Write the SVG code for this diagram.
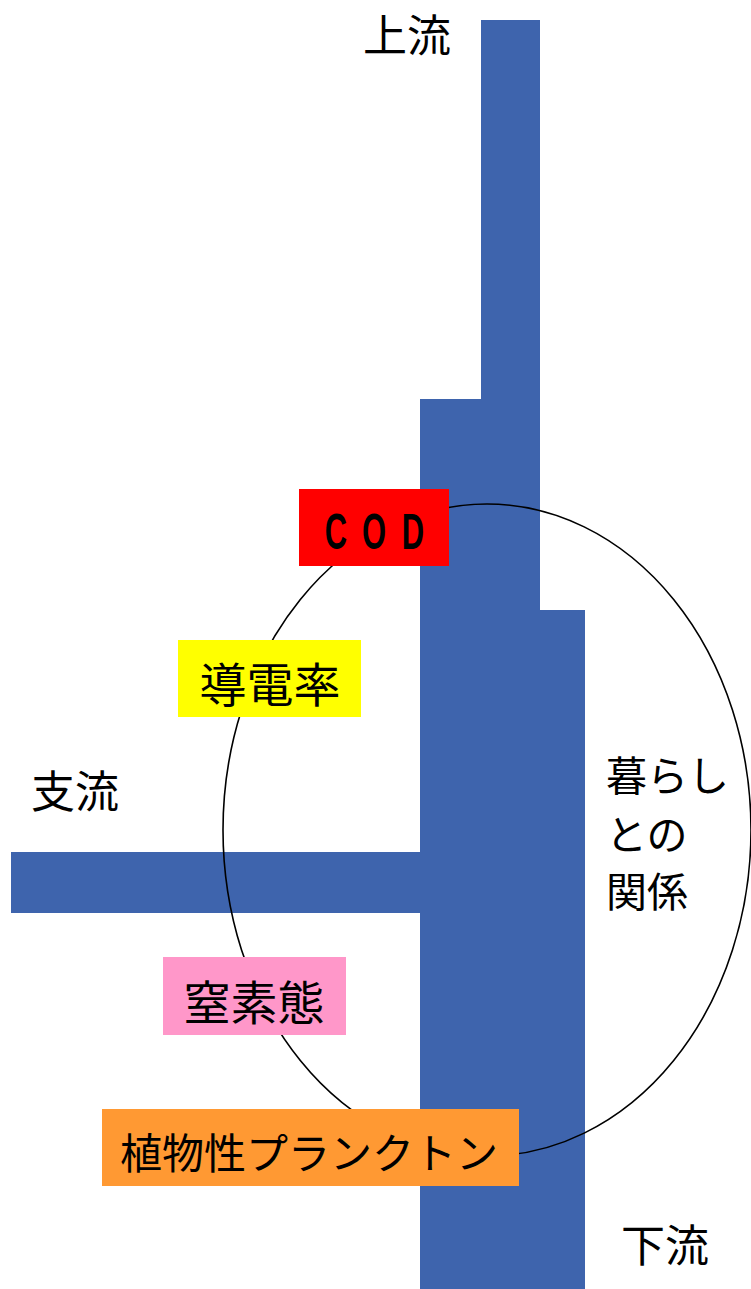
<svg xmlns="http://www.w3.org/2000/svg" width="751" height="1289" viewBox="0 0 751 1289">
<style>
.lbl{font-family:"Noto Sans CJK JP","Noto Sans",sans-serif;fill:#000;dominant-baseline:central}
.mid{text-anchor:middle}
.cod{font-family:"Liberation Sans",sans-serif;font-weight:bold;font-size:50px;fill:#000;text-anchor:middle}
</style>
<rect width="751" height="1289" fill="#fff"/>
<g id="river">
<polygon points="481,20 540,20 540,610 585,610 585,1289 420,1289 420,913 11,913 11,852 420,852 420,399 481,399" fill="#3E64AD"/>
</g>
<g id="connectors">
<ellipse cx="487" cy="830" rx="264" ry="326" fill="none" stroke="#000" stroke-width="1.6"/>
</g>
<g id="upstream"><text class="lbl mid" x="407" y="33" font-size="44">上流</text></g>
<g id="tributary"><text class="lbl mid" x="75" y="789" font-size="44">支流</text></g>
<g id="downstream"><text class="lbl mid" x="665" y="1243" font-size="44">下流</text></g>
<g id="life">
<text class="lbl" x="606" y="773" font-size="41">暮らし</text>
<text class="lbl" x="606" y="832" font-size="41">との</text>
<text class="lbl" x="606" y="889" font-size="41">関係</text>
</g>
<g id="cod">
<rect x="299" y="489" width="150" height="77" fill="#FF0000"/>
<text class="cod" transform="translate(336,549) scale(0.62,1)">C</text>
<text class="cod" transform="translate(374,549) scale(0.62,1)">O</text>
<text class="cod" transform="translate(413,549) scale(0.62,1)">D</text>
</g>
<g id="conductivity">
<rect x="178" y="640" width="183" height="77" fill="#FFFF00"/>
<text class="lbl mid" x="270" y="681" font-size="47">導電率</text>
</g>
<g id="nitrogen">
<rect x="163" y="957" width="183" height="78" fill="#FF97C9"/>
<text class="lbl mid" x="254" y="999" font-size="47">窒素態</text>
</g>
<g id="plankton">
<rect x="102" y="1109" width="417" height="77" fill="#FF9933"/>
<text class="lbl mid" x="309" y="1150" font-size="42">植物性プランクトン</text>
</g>
</svg>
